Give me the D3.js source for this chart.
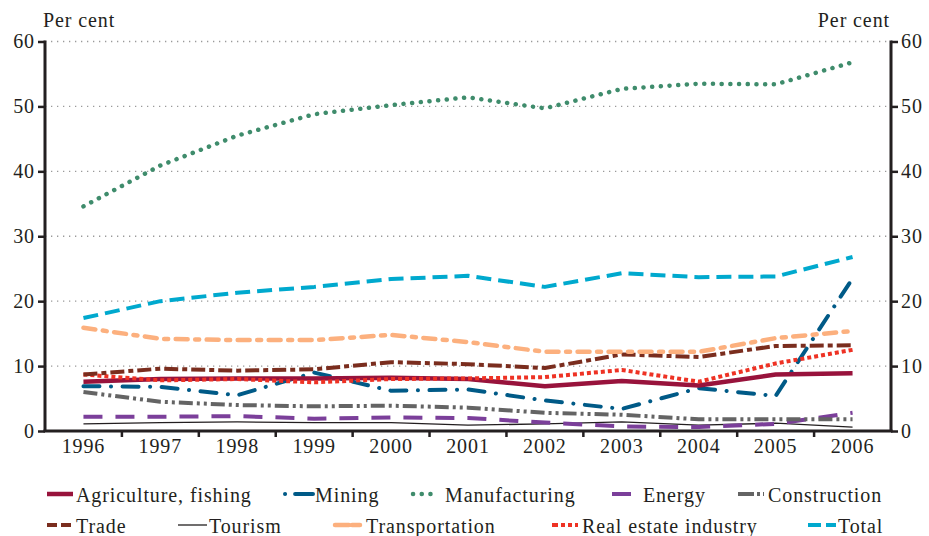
<!DOCTYPE html>
<html>
<head>
<meta charset="utf-8">
<script src="https://cdn.jsdelivr.net/npm/d3@7"></script>
<style>
  html, body { margin: 0; padding: 0; background: #fff; }
  svg { display: block; }
  text { font-family: "Liberation Serif", "DejaVu Serif", serif; fill: #231f20; letter-spacing: 0.9px; }
</style>
</head>
<body>
<svg id="chart" width="929" height="536"></svg>
<script>
// ---------- DATA ----------
const years = ["1996","1997","1998","1999","2000","2001","2002","2003","2004","2005","2006"];
const yTicks = [0, 10, 20, 30, 40, 50, 60];

const agriculture   = [7.6, 8.0, 8.1, 8.1, 8.2, 8.0, 6.9, 7.7, 7.0, 8.7, 8.9];
const mining        = [6.9, 6.8, 5.5, 9.0, 6.2, 6.4, 4.7, 3.4, 6.6, 5.4, 23.5];
const manufacturing = [34.6, 40.9, 45.5, 48.8, 50.2, 51.4, 49.7, 52.7, 53.5, 53.4, 56.8];
const energy        = [2.2, 2.2, 2.3, 1.9, 2.1, 2.0, 1.3, 0.7, 0.6, 1.1, 2.8];
const construction  = [6.0, 4.5, 4.0, 3.8, 3.9, 3.6, 2.8, 2.5, 1.8, 1.8, 1.8];
const trade         = [8.7, 9.6, 9.3, 9.5, 10.6, 10.3, 9.7, 11.8, 11.4, 13.1, 13.2];
const tourism       = [1.1, 1.3, 1.4, 1.3, 1.3, 0.9, 1.1, 1.4, 0.9, 1.2, 0.6];
const transportation= [15.9, 14.2, 14.0, 14.0, 14.8, 13.7, 12.2, 12.2, 12.2, 14.3, 15.4];
const realEstate    = [8.7, 7.8, 8.0, 7.5, 8.0, 8.1, 8.3, 9.4, 7.6, 10.4, 12.5];
const total         = [17.4, 20.0, 21.3, 22.2, 23.4, 23.9, 22.2, 24.3, 23.7, 23.8, 26.8];

const seriesNames = ["Agriculture, fishing","Mining","Manufacturing","Energy","Construction",
                     "Trade","Tourism","Transportation","Real estate industry","Total"];
const seriesValues = [agriculture, mining, manufacturing, energy, construction,
                      trade, tourism, transportation, realEstate, total];

// ---------- STYLES ----------
const styles = [
  {color:"#98133c", width:4.5, dash:null, cap:"butt"},
  {color:"#005a87", width:4, dash:"16,11.5,0.1,11.5", cap:"round", ldash:"0.1,10,18,20"},
  {color:"#3f8c6c", width:4.5, dash:"0.1,8.6", cap:"round", ldash:"0.1,8.6"},
  {color:"#7b3f9a", width:4, dash:"19,13", cap:"butt", ldash:"19,13"},
  {color:"#646464", width:4, dash:"14,4,3,4,3,4", cap:"butt", ldash:"16,3,3,3,3,10"},
  {color:"#7a2d1e", width:4, dash:"14,4,5,4", cap:"butt", ldash:"10,4,10,20"},
  {color:"#231f20", width:1.3, dash:null, cap:"butt"},
  {color:"#fcb07e", width:4.5, dash:"12,7.5,4,7.5", cap:"round", ldash:"14,3,8,30"},
  {color:"#ee3224", width:4, dash:"4,3", cap:"butt", ldash:"6,3,4,3,4,3,3,20"},
  {color:"#00a9ce", width:4, dash:"15,7", cap:"butt", ldash:"13,5,10,20"}
];

// legend placement
const legendPos = [
  {x0:47, x1:73, tx:76, row:0},
  {x0:285, x1:313, tx:315, row:0},
  {x0:413, x1:436, tx:445, row:0},
  {x0:612, x1:631, tx:643, row:0},
  {x0:738, x1:764, tx:768, row:0},
  {x0:47, x1:71, tx:76, row:1},
  {x0:178, x1:207, tx:209, row:1},
  {x0:335, x1:363, tx:366, row:1},
  {x0:552, x1:578, tx:582, row:1},
  {x0:808, x1:836, tx:838, row:1}
];

// ---------- CHART ----------
const svg = d3.select("#chart");
const pLeft = 45, pRight = 891, pTop = 41.5, pBottom = 431;
const fs = 20;

const x = d3.scaleBand().domain(years).range([pLeft, pRight]).padding(0);
const y = d3.scaleLinear().domain([0, 60]).range([pBottom, pTop]);
const cx = d => x(d) + x.bandwidth() / 2;

// gridlines
svg.append("g").selectAll("line").data(yTicks.filter(t => t > 0)).join("line")
  .attr("x1", pLeft).attr("x2", pRight)
  .attr("y1", d => y(d)).attr("y2", d => y(d))
  .attr("stroke", "#9a9a9a").attr("stroke-width", 1.3)
  .attr("stroke-dasharray", "1.3,4.7");

// lines
const line = d3.line();
const drawOrder = [6, 3, 4, 1, 0, 8, 5, 7, 9, 2];
drawOrder.forEach(i => {
  const st = styles[i];
  svg.append("path")
    .attr("d", line(years.map((yr, k) => [cx(yr), y(seriesValues[i][k])])))
    .attr("fill", "none")
    .attr("stroke", st.color)
    .attr("stroke-width", st.width)
    .attr("stroke-linecap", st.cap)
    .attr("stroke-linejoin", "round")
    .attr("stroke-dasharray", st.dash);
});

// axes
const axisColor = "#231f20";
const gL = svg.append("g").attr("transform", `translate(${pLeft},0)`)
  .call(d3.axisLeft(y).tickValues(yTicks).tickSize(7).tickPadding(3));
const gR = svg.append("g").attr("transform", `translate(${pRight},0)`)
  .call(d3.axisRight(y).tickValues(yTicks).tickSize(7).tickPadding(3));
const gB = svg.append("g").attr("transform", `translate(0,${pBottom})`)
  .call(d3.axisBottom(x).tickSize(0).tickPadding(8));

[gL, gR].forEach(g => {
  g.select(".domain").remove();
  g.selectAll(".tick line").attr("stroke", axisColor).attr("stroke-width", 2.5);
  g.selectAll(".tick text").attr("font-size", fs).attr("fill", axisColor)
    .style("font-family", '"Liberation Serif", serif');
  g.append("line").attr("x1", 0).attr("x2", 0).attr("y1", pTop - 1).attr("y2", pBottom)
    .attr("stroke", axisColor).attr("stroke-width", 3);
});
gB.select(".domain").remove();
gB.selectAll(".tick text").attr("font-size", fs).attr("fill", axisColor)
  .style("font-family", '"Liberation Serif", serif');
// x axis line and boundary ticks
svg.append("line").attr("x1", pLeft - 1.5).attr("x2", pRight + 1.5)
  .attr("y1", pBottom).attr("y2", pBottom)
  .attr("stroke", axisColor).attr("stroke-width", 3);
svg.append("g").selectAll("line").data(years.slice(1)).join("line")
  .attr("x1", d => x(d)).attr("x2", d => x(d))
  .attr("y1", pBottom).attr("y2", pBottom + 6)
  .attr("stroke", axisColor).attr("stroke-width", 2.5);

// axis titles
svg.append("text").attr("x", 43).attr("y", 27).attr("font-size", fs).text("Per cent");
svg.append("text").attr("x", 890).attr("y", 27).attr("font-size", fs)
  .attr("text-anchor", "end").text("Per cent");

// legend
const rowMarkY = [494, 525];
const rowTextY = [501.5, 532.5];
seriesNames.forEach((name, i) => {
  const p = legendPos[i], st = styles[i];
  svg.append("line")
    .attr("x1", p.x0).attr("x2", p.x1)
    .attr("y1", rowMarkY[p.row]).attr("y2", rowMarkY[p.row])
    .attr("stroke", st.color).attr("stroke-width", st.width)
    .attr("stroke-linecap", st.cap)
    .attr("stroke-dasharray", st.ldash || st.dash);
  svg.append("text").attr("x", p.tx).attr("y", rowTextY[p.row])
    .attr("font-size", fs).text(name);
});
</script>
</body>
</html>
